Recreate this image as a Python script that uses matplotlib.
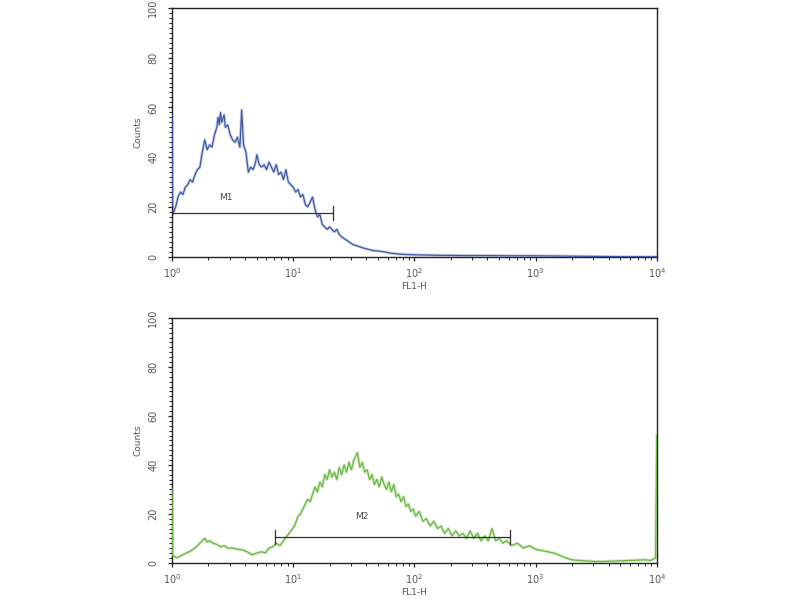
import numpy as np
import matplotlib
matplotlib.use("Agg")
import matplotlib.pyplot as plt
from matplotlib.ticker import MultipleLocator, LogLocator, FixedLocator

# log10(FL1-H) channel positions and counts
top_log = [0.000, 0.005, 0.03, 0.05, 0.07, 0.09, 0.11, 0.13, 0.15, 0.17, 0.19, 0.21, 0.23,
           0.25, 0.27, 0.29, 0.31, 0.33, 0.35, 0.37, 0.38, 0.39, 0.40, 0.41, 0.43, 0.44,
           0.46, 0.48, 0.50, 0.52, 0.54, 0.56, 0.575, 0.59, 0.61, 0.63, 0.65, 0.67, 0.69,
           0.70, 0.72, 0.74, 0.76, 0.78, 0.80, 0.82, 0.84, 0.86, 0.88, 0.90, 0.92, 0.94,
           0.96, 0.98, 1.00, 1.02, 1.04, 1.06, 1.08, 1.10, 1.12, 1.14, 1.16, 1.18, 1.20,
           1.22, 1.24, 1.26, 1.28, 1.30, 1.32, 1.34, 1.36, 1.38, 1.40, 1.43, 1.46, 1.49,
           1.52, 1.55, 1.58, 1.62, 1.66, 1.70, 1.75, 1.80, 1.85, 1.90, 2.0, 2.1, 2.2, 2.4,
           2.6, 2.8, 3.0, 3.2, 3.4, 3.6, 3.8, 4.0]
top_counts = [57, 17, 20, 24, 26, 25, 28, 29, 31, 30, 33, 35, 36,
              42, 47, 43, 45, 44, 49, 52, 56, 53, 58, 54, 57, 52,
              53, 49, 47, 46, 48, 44, 59, 45, 42, 34, 36, 35, 38,
              41, 37, 36, 37, 35, 38, 36, 34, 37, 33, 34, 31, 35,
              30, 29, 28, 26, 27, 24, 25, 21, 20, 22, 24, 19, 16,
              17, 13, 12, 11, 12, 11, 10, 11, 9, 8, 7, 6, 5,
              4.5, 4, 3.5, 3, 2.5, 2.3, 2, 1.5, 1.2, 1, 0.8, 0.7, 0.6, 0.5,
              0.5, 0.4, 0.4, 0.3, 0.2, 0.1, 0, 0]

bot_log = [0.000, 0.005, 0.04, 0.08, 0.12, 0.16, 0.20, 0.23, 0.25, 0.27, 0.29, 0.31, 0.34,
           0.37, 0.40, 0.43, 0.46, 0.50, 0.54, 0.58, 0.62, 0.66, 0.70, 0.74, 0.77, 0.80,
           0.83, 0.86, 0.89, 0.92, 0.95, 0.98, 1.01, 1.04, 1.06, 1.08, 1.10, 1.12, 1.14,
           1.16, 1.18, 1.20, 1.22, 1.24, 1.26, 1.28, 1.30, 1.32, 1.34, 1.36, 1.38, 1.40,
           1.42, 1.44, 1.46, 1.48, 1.50, 1.53, 1.55, 1.57, 1.59, 1.61, 1.63, 1.65, 1.67,
           1.69, 1.71, 1.73, 1.75, 1.77, 1.79, 1.81, 1.83, 1.85, 1.87, 1.89, 1.91, 1.93,
           1.95, 1.97, 1.99, 2.01, 2.04, 2.07, 2.10, 2.13, 2.16, 2.19, 2.22, 2.25, 2.28,
           2.31, 2.34, 2.37, 2.40, 2.43, 2.46, 2.49, 2.52, 2.55, 2.58, 2.61, 2.64, 2.67,
           2.70, 2.73, 2.76, 2.80, 2.85, 2.90, 2.95, 3.00, 3.05, 3.10, 3.15, 3.20, 3.25,
           3.30, 3.40, 3.50, 3.60, 3.70, 3.80, 3.90, 3.95, 3.99, 4.00]
bot_counts = [30, 3, 2, 3, 4, 5, 6.5, 8, 9, 10, 8.5, 9, 8,
              7.5, 6.5, 7, 6, 6, 5.5, 5.3, 4.5, 3.3, 4, 4.5, 4, 6,
              6.5, 8, 7, 9, 11, 13, 15, 19, 20, 22, 24, 26, 25,
              28, 31, 29, 33, 31, 36, 34, 38, 35, 37, 34, 39, 36,
              40, 37, 41, 38, 42, 45, 39, 41, 37, 38, 34, 36, 32,
              34, 31, 35, 32, 30, 33, 29, 32, 27, 28, 25, 27, 23,
              24, 21, 22, 19, 21, 17, 18, 15, 17, 14, 15, 12, 14,
              11, 13, 11, 12, 10, 13, 10, 12, 9, 11, 9, 14, 9,
              10, 8, 9, 7, 8, 6, 7, 5.5, 5, 4.5, 4, 3, 2,
              1.2, 0.8, 0.5, 0.6, 0.8, 1, 1.2, 1, 2, 52]

# marker gates: (start, end, level, label, label x, label y)
gate_top = (1.0, 21.4, 17.6, "M1", 2.8, 22)
gate_bot = (7.1, 617, 10.6, "M2", 37, 17)

BLUE = "#3f57a6"
GREEN = "#6cb844"

fig = plt.figure(figsize=(8, 6), dpi=100)
ax_top = fig.add_axes([0.215, 0.572, 0.606, 0.415])
ax_bot = fig.add_axes([0.215, 0.062, 0.606, 0.408])


def style_axis(ax):
    ax.set_xscale("log")
    ax.set_xlim(1, 1e4)
    ax.set_ylim(0, 100)
    ax.xaxis.set_major_locator(FixedLocator([1, 10, 100, 1000, 10000]))
    ax.set_xticklabels([r"$10^0$", r"$10^1$", r"$10^2$", r"$10^3$", r"$10^4$"])
    ax.xaxis.set_minor_locator(LogLocator(base=10, subs=np.arange(2, 10)))
    ax.yaxis.set_major_locator(MultipleLocator(20))
    ax.yaxis.set_minor_locator(MultipleLocator(2))
    ax.tick_params(axis="both", which="major", labelsize=7, length=3, width=0.9,
                   colors="#222222", labelcolor="#555555")
    ax.tick_params(axis="x", which="major", pad=4)
    ax.tick_params(axis="y", which="major", pad=7)
    ax.tick_params(axis="both", which="minor", length=2, width=0.7, colors="#222222")
    for lab in ax.get_yticklabels():
        lab.set_rotation(90)
        lab.set_va("center")
    for sp in ax.spines.values():
        sp.set_linewidth(1.0)
        sp.set_color("#222222")
    ax.set_xlabel("FL1-H", fontsize=6.5, color="#555555", labelpad=1)
    ax.set_ylabel("Counts", fontsize=6.5, color="#555555", labelpad=4)


def draw_gate(ax, gate):
    x0, x1, lvl, name, lx, ly = gate
    ax.plot([x0, x1], [lvl, lvl], color="#333333", lw=0.9, zorder=3)
    ax.plot([x0, x0], [lvl - 3, lvl + 3], color="#333333", lw=0.9, zorder=3)
    ax.plot([x1, x1], [lvl - 3, lvl + 3], color="#333333", lw=0.9, zorder=3)
    ax.text(lx, ly, name, fontsize=6.5, color="#444444", ha="center", va="bottom")


style_axis(ax_top)
xt = 10 ** np.array(top_log)
ax_top.plot(xt, top_counts, color=BLUE, lw=2.2, alpha=0.25, zorder=3)
ax_top.plot(xt, top_counts, color=BLUE, lw=0.9, zorder=3)
draw_gate(ax_top, gate_top)

style_axis(ax_bot)
xb = 10 ** np.array(bot_log)
ax_bot.plot(xb, bot_counts, color=GREEN, lw=2.2, alpha=0.3, zorder=3)
ax_bot.plot(xb, bot_counts, color=GREEN, lw=0.9, zorder=3)
draw_gate(ax_bot, gate_bot)

fig.savefig("out.png", dpi=100)
